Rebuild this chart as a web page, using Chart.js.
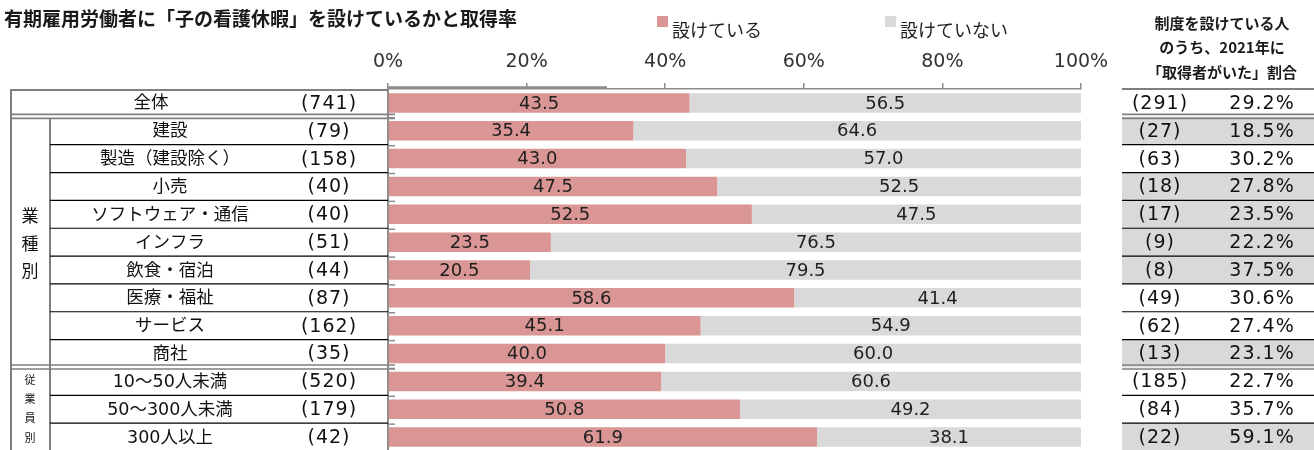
<!DOCTYPE html>
<html lang="ja">
<head>
<meta charset="utf-8">
<script src="https://cdn.jsdelivr.net/npm/chart.js@4.4.1/dist/chart.umd.min.js"></script>
<style>
html,body{margin:0;padding:0;background:#fff;overflow:hidden;}
#wrap{position:relative;width:1314px;height:450px;overflow:hidden;}
canvas{display:block;}
</style>
</head>
<body>
<div id="wrap"><canvas id="c" width="1314" height="451"></canvas></div>
<script>
// ---- data ----
const categories = ['全体','建設','製造（建設除く）','小売','ソフトウェア・通信','インフラ','飲食・宿泊','医療・福祉','サービス','商社','10～50人未満','50～300人未満','300人以上'];
const respondents = [741,79,158,40,40,51,44,87,162,35,520,179,42];
const hasLeave = [43.5,35.4,43.0,47.5,52.5,23.5,20.5,58.6,45.1,40.0,39.4,50.8,61.9];
const noLeave = [56.5,64.6,57.0,52.5,47.5,76.5,79.5,41.4,54.9,60.0,60.6,49.2,38.1];
const withLeaveCounts = [291,27,63,18,17,9,8,49,62,13,185,84,22];
const takenRate = [29.2,18.5,30.2,27.8,23.5,22.2,37.5,30.6,27.4,23.1,22.7,35.7,59.1];
const highlighted = [false,true,false,true,true,true,true,false,false,true,false,false,true];
const xTicks = [0,20,40,60,80,100];
const seriesNames = ['設けている','設けていない'];
const groupIndustry = ['業','種','別'];
const groupSize = ['従','業','員','別'];
const titleText = '有期雇用労働者に「子の看護休暇」を設けているかと取得率';
const rightHeader = ['制度を設けている人','のうち、2021年に','「取得者がいた」割合'];

// ---- styles ----
const PINK = '#d99694';
const LIGHT = '#d9d9d9';
const AXIS_GRAY = '#8c8c8c';
const RULE_GRAY = '#7f7f7f';
const JP = "'Noto Sans CJK JP', 'Noto Sans', sans-serif";
const MIXED = "'DejaVu Sans', 'Noto Sans CJK JP', sans-serif";
const NUM = "'DejaVu Sans', sans-serif";

function rowCenter(y, i){ return y.getPixelForValue(i); }
function rowEdge(y, i){
  // edge between row i-1 and row i (i may be 0 or n)
  const n = categories.length;
  if (i <= 0) return y.top;
  if (i >= n) return y.bottom;
  return (y.getPixelForValue(i-1) + y.getPixelForValue(i)) / 2;
}
function text(ctx, s, x, yy, font, color, align, spacing){
  ctx.font = font;
  ctx.fillStyle = color || '#000';
  ctx.textAlign = align || 'center';
  ctx.textBaseline = 'middle';
  ctx.letterSpacing = spacing || '0px';
  ctx.fillText(s, x, yy);
  ctx.letterSpacing = '0px';
}
function hline(ctx, x1, x2, yy, color, w){
  ctx.beginPath();
  ctx.strokeStyle = color; ctx.lineWidth = w;
  ctx.moveTo(x1, yy); ctx.lineTo(x2, yy); ctx.stroke();
}
function vline(ctx, xx, y1, y2, color, w){
  ctx.beginPath();
  ctx.strokeStyle = color; ctx.lineWidth = w;
  ctx.moveTo(xx, y1); ctx.lineTo(xx, y2); ctx.stroke();
}

// Tables on both sides of the bars, title and legend
const framePlugin = {
  id: 'frame',
  beforeDraw(chart){
    const ctx = chart.ctx, y = chart.scales.y;
    ctx.save();
    // shaded rows of the right-hand table
    highlighted.forEach((h, i) => {
      if (!h) return;
      const t = rowEdge(y, i), b = rowEdge(y, i+1);
      ctx.fillStyle = LIGHT;
      ctx.fillRect(1122, t, 1314-1122, b - t);
    });
    ctx.restore();
  },
  afterDraw(chart){
    const ctx = chart.ctx, y = chart.scales.y, x = chart.scales.x;
    const axisX = x.getPixelForValue(0);
    const n = categories.length;
    ctx.save();

    // title
    text(ctx, titleText, 4, 19, 'bold 19px ' + JP, '#1a1a1a', 'left');

    // legend
    const legendItems = [
      {label: seriesNames[0], color: chart.data.datasets[0].backgroundColor, x: 657},
      {label: seriesNames[1], color: chart.data.datasets[1].backgroundColor, x: 885}
    ];
    legendItems.forEach(it => {
      ctx.fillStyle = it.color;
      ctx.fillRect(it.x, 16, 11, 11);
      text(ctx, it.label, it.x + 15, 30, '18px ' + JP, '#222', 'left');
    });

    // right header
    rightHeader.forEach((s, k) => text(ctx, s, 1222, 23 + k*24.5, 'bold 15px ' + JP, '#1a1a1a'));

    // decorative rule along the upper axis
    hline(ctx, axisX, 607, 87.5, AXIS_GRAY, 2.5);

    // left table: borders
    const top = 90;
    hline(ctx, 10, axisX, top, RULE_GRAY, 2);
    vline(ctx, 11, top - 1, y.bottom, RULE_GRAY, 2);
    const e1 = rowEdge(y, 1), e10 = rowEdge(y, 10);
    // double rules under 全体 and under the industry block
    [e1, e10].forEach(e => {
      hline(ctx, 10, axisX + 7, e - 2.5, RULE_GRAY, 1.6);
      hline(ctx, 10, axisX + 7, e + 1.5, RULE_GRAY, 1.6);
    });
    // group column divider
    vline(ctx, 50, e1 + 1.5, y.bottom, RULE_GRAY, 2);
    // thin separators between rows
    for (let i = 2; i < n; i++){
      if (i === 10) continue;
      hline(ctx, 50, axisX, rowEdge(y, i), '#000', 1.2);
    }
    // inside tick marks on the category axis
    for (let i = 1; i < n; i++){
      hline(ctx, axisX, axisX + 7, rowEdge(y, i) + 1, AXIS_GRAY, 1.5);
    }

    // left table: texts
    categories.forEach((c, i) => {
      const cy = rowCenter(y, i) + 1;
      const cx = i === 0 ? 151 : 170;
      text(ctx, c, cx, cy, '17.5px ' + MIXED, '#111');
      text(ctx, '(' + respondents[i] + ')', 329, cy, '19px ' + NUM, '#111', 'center', '1px');
    });
    // group labels
    groupIndustry.forEach((g, k) => text(ctx, g, 30, rowCenter(y, 4 + k) + 1, '17px ' + JP, '#111'));
    const gTop = e10 + 3, gBot = y.bottom - 4;
    const gStep = (gBot - gTop) / groupSize.length;
    groupSize.forEach((g, k) => text(ctx, g, 30, gTop + (k + 0.5) * gStep, '11px ' + JP, '#111'));

    // right table: rules
    hline(ctx, 1122, 1314, 89, RULE_GRAY, 2.2);
    [e1, e10].forEach(e => {
      hline(ctx, 1122, 1314, e - 2.5, RULE_GRAY, 1.6);
      hline(ctx, 1122, 1314, e + 1.5, RULE_GRAY, 1.6);
    });
    for (let i = 2; i < n; i++){
      if (i === 10) continue;
      hline(ctx, 1122, 1314, rowEdge(y, i), '#000', 1.2);
    }
    // right table: texts
    withLeaveCounts.forEach((v, i) => {
      const cy = rowCenter(y, i) + 1;
      text(ctx, '(' + v + ')', 1160, cy, '19px ' + NUM, '#111', 'center', '1px');
      text(ctx, takenRate[i].toFixed(1) + '%', 1262, cy, '19px ' + NUM, '#111', 'center', '1px');
    });

    ctx.restore();
  }
};

// value labels centred in each bar segment
const valueLabels = {
  id: 'valueLabels',
  afterDatasetsDraw(chart){
    const ctx = chart.ctx;
    ctx.save();
    chart.data.datasets.forEach((ds, di) => {
      const meta = chart.getDatasetMeta(di);
      meta.data.forEach((bar, i) => {
        const cx = (bar.x + bar.base) / 2;
        text(ctx, ds.data[i].toFixed(1), cx, bar.y + 1, '18px ' + NUM, '#1f1f1f');
      });
    });
    ctx.restore();
  }
};

new Chart(document.getElementById('c'), {
  type: 'bar',
  data: {
    labels: categories,
    datasets: [
      {label: seriesNames[0], data: hasLeave, backgroundColor: PINK, borderWidth: 0},
      {label: seriesNames[1], data: noLeave, backgroundColor: LIGHT, borderWidth: 0}
    ]
  },
  options: {
    indexAxis: 'y',
    responsive: false,
    animation: false,
    events: [],
    devicePixelRatio: 1,
    barPercentage: 0.7,
    categoryPercentage: 1,
    layout: {padding: {left: 388, right: 233, top: 0, bottom: 0}},
    plugins: {legend: {display: false}, tooltip: {enabled: false}, title: {display: false}},
    scales: {
      x: {
        stacked: true,
        position: 'top',
        min: 0, max: 100,
        afterBuildTicks(s){ s.ticks = xTicks.map(v => ({value: v})); },
        afterFit(s){ s.height = 89; },
        ticks: {
          callback: v => v + '%',
          font: {family: 'DejaVu Sans', size: 19},
          color: '#333',
          padding: 10,
          maxRotation: 0,
          autoSkip: false
        },
        grid: {drawOnChartArea: false, tickLength: 6, color: AXIS_GRAY, lineWidth: 1.5},
        border: {display: true, color: AXIS_GRAY, width: 1.5}
      },
      y: {
        stacked: true,
        afterFit(s){ s.width = 0; },
        ticks: {display: false},
        grid: {display: false},
        border: {display: true, color: AXIS_GRAY, width: 2}
      }
    }
  },
  plugins: [framePlugin, valueLabels]
});
</script>
</body>
</html>
